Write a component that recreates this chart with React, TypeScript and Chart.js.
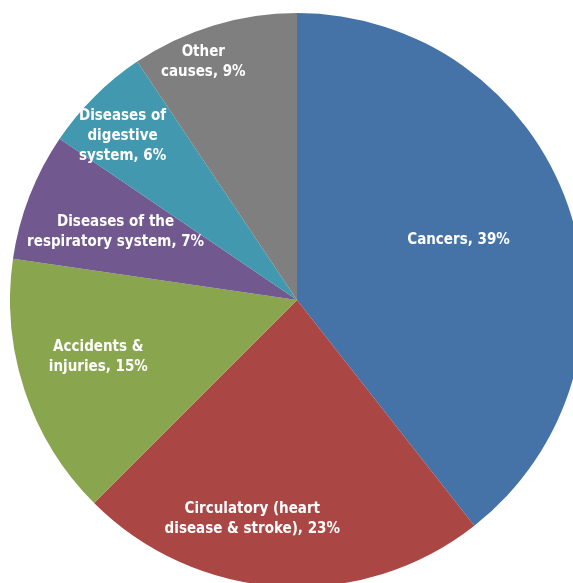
import React, { useEffect, useRef } from "react";
import { Chart, registerables } from "chart.js";

Chart.register(...registerables);

const categories = [
  "Cancers",
  "Circulatory (heart disease & stroke)",
  "Accidents & injuries",
  "Diseases of the respiratory system",
  "Diseases of digestive system",
  "Other causes",
];
const values = [39.4, 23.1, 14.8, 7.2, 6.1, 9.4];
const labelLines = [
  ["Cancers, 39%"],
  ["Circulatory (heart", "disease & stroke), 23%"],
  ["Accidents &", "injuries, 15%"],
  ["Diseases of the", "respiratory system, 7%"],
  ["Diseases of", "digestive", "system, 6%"],
  ["Other", "causes, 9%"],
];
const colors = ["#4572A7", "#AA4643", "#89A54E", "#71588F", "#4198AF", "#7F7F7F"];

// label placement (fraction of radius, angle offset in degrees from slice mid)
const labelRadiusFrac = [0.6, 0.78, 0.72, 0.675, 0.835, 0.89];
const labelAngleOffset = [-1.2, 8.1, 2.4, -0.7, -1.9, -4.6];

const labelPlugin = {
  id: "sliceLabels",
  afterDatasetsDraw(chart: any) {
    const ctx = chart.ctx;
    const meta = chart.getDatasetMeta(0);
    ctx.save();
    ctx.fillStyle = "#ffffff";
    ctx.font = "bold 15px 'DejaVu Sans Condensed', 'DejaVu Sans', sans-serif";
    ctx.textAlign = "center";
    ctx.textBaseline = "middle";
    meta.data.forEach((arc: any, i: number) => {
      const { startAngle, endAngle, x, y, outerRadius } = arc.getProps(
        ["startAngle", "endAngle", "x", "y", "outerRadius"],
        true
      );
      const mid = (startAngle + endAngle) / 2 + (labelAngleOffset[i] * Math.PI) / 180;
      const r = outerRadius * labelRadiusFrac[i];
      const cx = x + Math.cos(mid) * r;
      const cy = y + Math.sin(mid) * r;
      const lines = labelLines[i];
      const lh = 20;
      lines.forEach((ln, j) => {
        ctx.fillText(ln, cx, cy + (j - (lines.length - 1) / 2) * lh);
      });
    });
    ctx.restore();
  },
};

export default function App() {
  const ref = useRef<HTMLCanvasElement | null>(null);
  useEffect(() => {
    if (!ref.current) return;
    const chart = new Chart(ref.current, {
      type: "pie",
      data: {
        labels: categories,
        datasets: [
          {
            data: values,
            backgroundColor: colors,
            borderWidth: 0,
          },
        ],
      },
      options: {
        animation: false,
        responsive: false,
        devicePixelRatio: 1,
        layout: { padding: 0 },
        plugins: {
          legend: { display: false },
          tooltip: { enabled: false },
        },
      },
      plugins: [labelPlugin],
    });
    return () => chart.destroy();
  }, []);
  return (
    <div
      style={{
        position: "fixed",
        left: 0,
        top: 0,
        width: "573px",
        height: "583px",
        overflow: "hidden",
        background: "#ffffff",
      }}
    >
      <canvas
        ref={ref}
        width={574}
        height={574}
        style={{ position: "absolute", left: "10px", top: "13px", width: "574px", height: "574px" }}
      />
    </div>
  );
}
